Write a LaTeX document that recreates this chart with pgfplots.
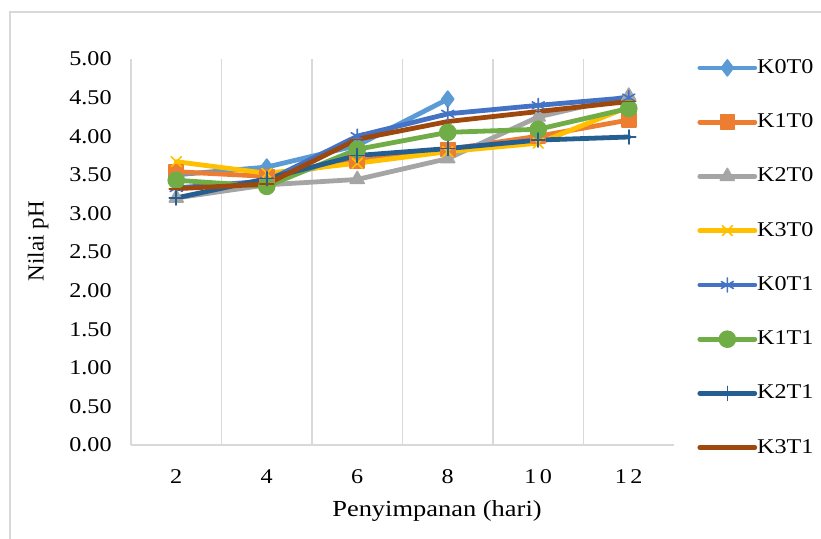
\documentclass[border=0pt]{standalone}
\usepackage{fontspec}
\setmainfont{Liberation Serif}[FakeStretch=1.15]
\newfontfamily\titlefont{Liberation Serif}
\usepackage{pgfplots}
\pgfplotsset{compat=1.18}

\definecolor{sK0T0}{HTML}{5B9BD5}
\definecolor{sK1T0}{HTML}{ED7D31}
\definecolor{sK2T0}{HTML}{A5A5A5}
\definecolor{sK3T0}{HTML}{FFC000}
\definecolor{sK0T1}{HTML}{4472C4}
\definecolor{sK1T1}{HTML}{70AD47}
\definecolor{sK2T1}{HTML}{255E91}
\definecolor{sK3T1}{HTML}{9E480E}
\definecolor{gridc}{HTML}{D9D9D9}

\pgfplotsset{
  series/.style={color=#1, line width=2.4pt, line cap=round, line join=round,
    mark options={solid, fill=#1, draw=#1, line width=0.8pt}},
}

\begin{document}
\begin{tikzpicture}
\path[use as bounding box] (0,0) rectangle (410.5pt,269pt);
% chart area border
\draw[gridc, line width=0.75pt] (5pt,-20pt) -- (5pt,263pt) -- (430pt,263pt);
\begin{axis}[
  at={(65.5pt,46.5pt)}, anchor=south west,
  scale only axis, width=271.5pt, height=193pt,
  xmin=1, xmax=13, ymin=0, ymax=5,
  xtick={2,4,6,8,10,12},
  xticklabels={2,4,6,8,1\,0,1\,2},
  minor xtick={3,5,7,9,11},
  xminorgrids=true,
  minor x grid style={gridc, line width=0.75pt},
  ytick={0,0.5,1,1.5,2,2.5,3,3.5,4,4.5,5},
  major tick length=0pt, minor tick length=0pt,
  axis x line*=bottom, axis y line*=left,
  axis line style={gridc, line width=0.75pt, -},
  tick label style={font=\fontsize{10.5}{12}\selectfont, black},
  xticklabel style={inner sep=0pt, anchor=north, yshift=-12pt},
  yticklabel style={inner sep=0pt, anchor=east, xshift=-9.5pt,
    /pgf/number format/.cd, fixed, fixed zerofill, precision=2, assume math mode=true},
  xlabel={Penyimpanan (hari)},
  ylabel={\titlefont Nilai pH},
  label style={font=\fontsize{11.5}{13}\selectfont},
  xlabel style={at={(axis description cs:0.5635,-0.171)}, anchor=center},
  ylabel style={at={(axis description cs:-0.171,0.528)}, anchor=center, rotate=0},
  legend image code/.code={\draw[mark repeat=2,mark phase=2]
    plot coordinates {(0pt,0pt) (13.75pt,0pt) (27.5pt,0pt)};},
  legend cell align=left,
  legend style={at={(1.0424,1)}, anchor=north west, yshift=0pt,
    draw=none, fill=none, inner sep=0pt, row sep=18.65pt,
    font=\fontsize{10.5}{12}\selectfont,
    nodes={inner sep=0pt}},
  legend columns=1,
  /tikz/every even column/.append style={column sep=2.5pt},
]
\addplot[series=sK0T0, mark=diamond*, mark size=4pt]
  coordinates {(2,3.50) (4,3.60) (6,3.88) (8,4.48)};
\addlegendentry{K0T0}
\addplot[series=sK1T0, mark=square*, mark size=3.5pt]
  coordinates {(2,3.54) (4,3.48) (6,3.68) (8,3.83) (10,4.00) (12,4.21)};
\addlegendentry{K1T0}
\addplot[series=sK2T0, mark=triangle*, mark size=4pt]
  coordinates {(2,3.20) (4,3.37) (6,3.44) (8,3.71) (10,4.25) (12,4.52)};
\addlegendentry{K2T0}
\addplot[series=sK3T0, mark=x, mark size=3.5pt]
  coordinates {(2,3.67) (4,3.52) (6,3.65) (8,3.80) (10,3.91) (12,4.38)};
\addlegendentry{K3T0}
\addplot[series=sK0T1, mark=asterisk, mark size=3.5pt]
  coordinates {(2,3.33) (4,3.42) (6,4.00) (8,4.29) (10,4.40) (12,4.50)};
\addlegendentry{K0T1}
\addplot[series=sK1T1, mark=*, mark size=4pt]
  coordinates {(2,3.43) (4,3.35) (6,3.83) (8,4.05) (10,4.09) (12,4.36)};
\addlegendentry{K1T1}
\addplot[series=sK2T1, mark=+, mark size=3.5pt]
  coordinates {(2,3.20) (4,3.45) (6,3.75) (8,3.84) (10,3.95) (12,3.99)};
\addlegendentry{K2T1}
\addplot[series=sK3T1, mark=-, mark size=3.5pt]
  coordinates {(2,3.32) (4,3.38) (6,3.96) (8,4.19) (10,4.32) (12,4.45)};
\addlegendentry{K3T1}
\end{axis}
\end{tikzpicture}
\end{document}
